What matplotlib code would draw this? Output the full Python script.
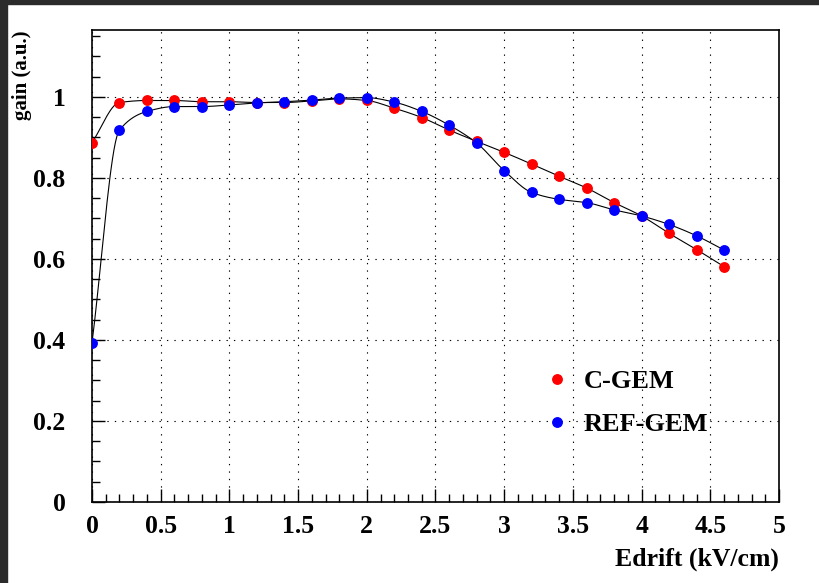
import numpy as np
import matplotlib.pyplot as plt
from matplotlib.patches import Rectangle
from matplotlib.ticker import MultipleLocator, FixedFormatter, FixedLocator

# Drift field scan, 0.2 kV/cm steps
edrift = [0.0, 0.2, 0.4, 0.6, 0.8, 1.0, 1.2, 1.4, 1.6, 1.8, 2.0, 2.2,
          2.4, 2.6, 2.8, 3.0, 3.2, 3.4, 3.6, 3.8, 4.0, 4.2, 4.4, 4.6]

gain_cgem = [0.887, 0.986, 0.991, 0.991, 0.988, 0.988, 0.986, 0.986,
             0.990, 0.995, 0.991, 0.972, 0.949, 0.918, 0.890, 0.863,
             0.834, 0.804, 0.775, 0.739, 0.706, 0.663, 0.623, 0.581]

gain_ref = [0.393, 0.918, 0.964, 0.976, 0.976, 0.980, 0.985, 0.988,
            0.992, 0.997, 0.998, 0.987, 0.964, 0.930, 0.886, 0.818,
            0.764, 0.747, 0.739, 0.721, 0.706, 0.685, 0.657, 0.622]

xticks = [0, 0.5, 1, 1.5, 2, 2.5, 3, 3.5, 4, 4.5, 5]
xticklabels = ["0", "0.5", "1", "1.5", "2", "2.5", "3", "3.5", "4", "4.5", "5"]
yticks = [0, 0.2, 0.4, 0.6, 0.8, 1.0]
yticklabels = ["0", "0.2", "0.4", "0.6", "0.8", "1"]

FONT = ["Liberation Serif", "DejaVu Serif"]


def smooth(x, y, n=20):
    # monotone cubic (Fritsch-Carlson) path through the measured points
    x = np.asarray(x, float)
    y = np.asarray(y, float)
    h = np.diff(x)
    d = np.diff(y) / h
    m = np.zeros_like(y)
    for k in range(1, len(y) - 1):
        if d[k - 1] * d[k] > 0:
            w1 = 2 * h[k] + h[k - 1]
            w2 = h[k] + 2 * h[k - 1]
            m[k] = (w1 + w2) / (w1 / d[k - 1] + w2 / d[k])
    m[0] = d[0]
    m[-1] = d[-1]
    t = np.linspace(0, 1, n, endpoint=False)
    h00 = 2 * t ** 3 - 3 * t ** 2 + 1
    h10 = t ** 3 - 2 * t ** 2 + t
    h01 = -2 * t ** 3 + 3 * t ** 2
    h11 = t ** 3 - t ** 2
    xs, ys = [], []
    for k in range(len(x) - 1):
        xs.append(x[k] + h[k] * t)
        ys.append(h00 * y[k] + h10 * h[k] * m[k] + h01 * y[k + 1] + h11 * h[k] * m[k + 1])
    xs.append([x[-1]])
    ys.append([y[-1]])
    return np.concatenate(xs), np.concatenate(ys)


fig = plt.figure(figsize=(8.2, 5.83), dpi=100)
ax = fig.add_axes([92 / 820, 81 / 583, 687 / 820, 472 / 583])

for g in (gain_cgem, gain_ref):
    sx, sy = smooth(edrift, g)
    ax.plot(sx, sy, color="black", lw=0.8, zorder=2)

ax.plot(edrift, gain_cgem, "o", color="#ff0000", ms=6.8, mec="#ff0000",
        label="C-GEM", zorder=3)
ax.plot(edrift, gain_ref, "o", color="#0000ff", ms=6.8, mec="#0000ff",
        label="REF-GEM", zorder=4)

ax.set_xlim(0, 5)
ax.set_ylim(0, 1.165)

ax.xaxis.set_major_locator(FixedLocator(xticks))
ax.xaxis.set_major_formatter(FixedFormatter(xticklabels))
ax.xaxis.set_minor_locator(MultipleLocator(0.1))
ax.yaxis.set_major_locator(FixedLocator(yticks))
ax.yaxis.set_major_formatter(FixedFormatter(yticklabels))
ax.yaxis.set_minor_locator(MultipleLocator(0.05))

ax.tick_params(which="both", direction="in", top=False, right=False,
               color="black", width=1.0)
ax.tick_params(which="major", length=9.5)
ax.tick_params(which="minor", length=5.8)
ax.tick_params(axis="x", which="major", pad=9.5)
ax.tick_params(axis="y", which="major", pad=19)

for lab in ax.get_xticklabels() + ax.get_yticklabels():
    lab.set_family(FONT)
    lab.set_fontweight("bold")
    lab.set_fontsize(18.5)

ax.grid(True, which="major", color="black", lw=0.8, linestyle=(0, (1.2, 5.5)))
for s in ax.spines.values():
    s.set_linewidth(1.2)

fig.text(779 / 820, (583 - 566) / 583, "Edrift (kV/cm)", ha="right",
         va="baseline", family=FONT, fontweight="bold", fontsize=18.5)
fig.text(22 / 820, (583 - 30) / 583, "gain (a.u.)", rotation=90, ha="center",
         va="top", family=FONT, fontweight="bold", fontsize=15)

ax.legend(loc="upper left", bbox_to_anchor=(0.6616, 0.2797), frameon=False,
          borderpad=0, borderaxespad=0, handlelength=0.8, handletextpad=0.6,
          labelspacing=0.72, prop={"family": FONT, "weight": "bold", "size": 19})

# dark bezel along the top and left edges
fig.patches.append(Rectangle((0, 1 - 4 / 583), 1, 4 / 583,
                             transform=fig.transFigure, color="#2b2b2b", zorder=10))
fig.patches.append(Rectangle((0, 0), 7 / 820, 1,
                             transform=fig.transFigure, color="#2b2b2b", zorder=10))

fig.savefig("out.png", dpi=100)
